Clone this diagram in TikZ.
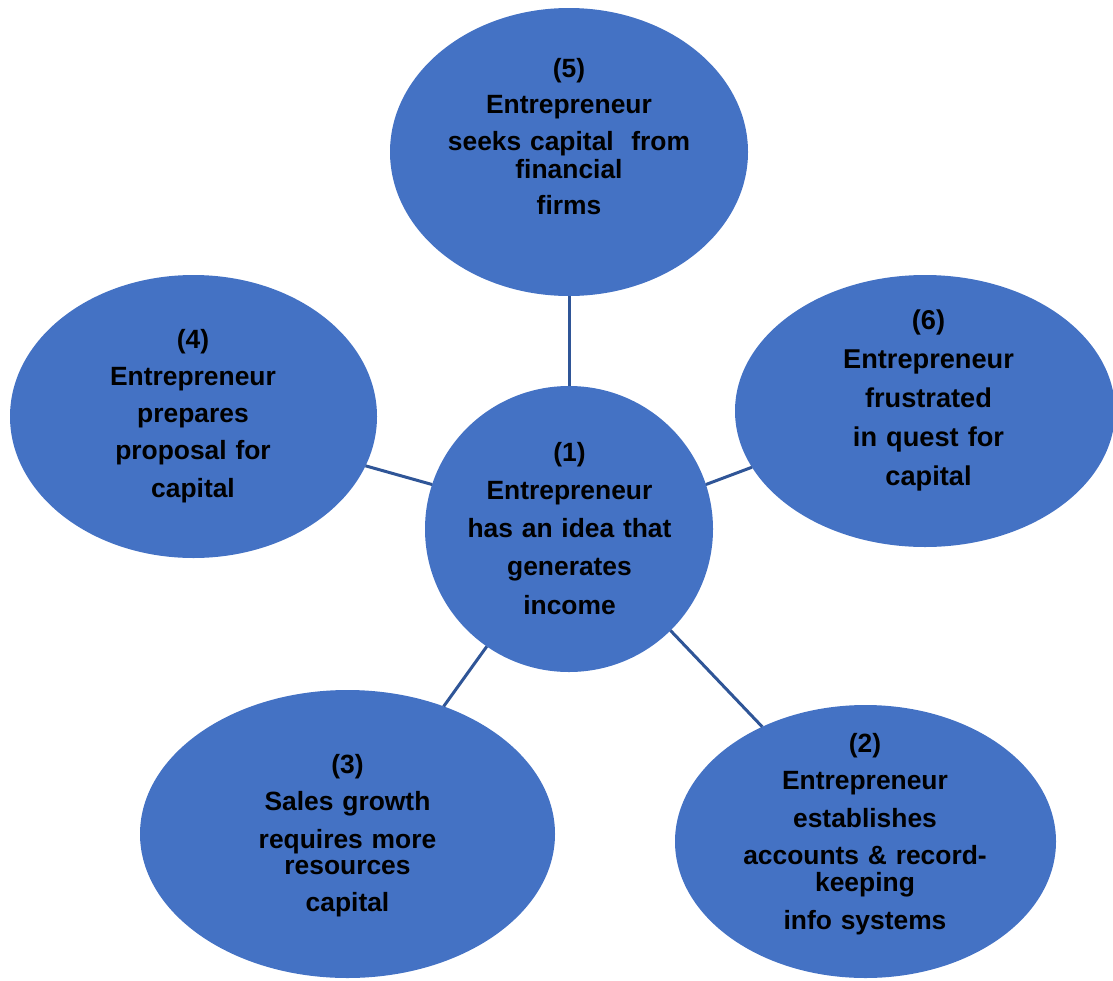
\documentclass[tikz,border=0pt]{standalone}
\usepackage{fontspec}
\setmainfont{Liberation Sans}
\usetikzlibrary{shapes.geometric}
\definecolor{bubblefill}{HTML}{4472C4}
\definecolor{linkblue}{HTML}{2F5597}
\tikzset{
  bubble/.style={ellipse, fill=bubblefill, inner sep=0pt, outer sep=0pt},
  txt/.style={anchor=base, inner sep=0pt, text width=300pt, align=center,
              font=\bfseries\fontsize{26.4}{37.5}\selectfont},
  link/.style={draw=linkblue, line width=3pt}
}
\begin{document}
\begin{tikzpicture}[x=1pt, y=-1pt]
\useasboundingbox (0,0) rectangle (1113,980);

% outer bubbles and centre
\node[bubble, minimum width=358pt, minimum height=288pt] (e5) at (569,152) {};
\node[bubble, minimum width=367pt, minimum height=283pt] (e4) at (193.5,416.5) {};
\node[bubble, minimum width=380pt, minimum height=272pt] (e6) at (925,411) {};
\node[bubble, minimum width=415pt, minimum height=288pt] (e3) at (347.5,834) {};
\node[bubble, minimum width=381pt, minimum height=273pt] (e2) at (865.5,841.5) {};
\node[bubble, minimum width=288pt, minimum height=286pt] (c) at (569,529) {};

% spokes
\draw[link] (c.north) -- (e5.south);
\draw[link] (c.162.7) -- (e4.-16.2);
\draw[link] (c.18.3) -- (e6.198.8);
\draw[link] (c.-125.8) -- (e3.53.9);
\draw[link] (c.-45.8) -- (e2.132.8);

% labels
\node[txt, font=\bfseries\fontsize{26.4}{36.5}\selectfont] (t5) at (569,77)
  {(5)\\Entrepreneur\\seeks capital\ \ from\\[-8.5pt]financial\\firms};
\node[txt, font=\bfseries\fontsize{26.4}{37.3}\selectfont] (t4) at (193,348)
  {(4)\\Entrepreneur\\prepares\\proposal for\\capital};
\node[txt, font=\bfseries\fontsize{27.2}{39}\selectfont] (t6) at (928.5,329)
  {(6)\\Entrepreneur\\frustrated\\in quest for\\capital};
\node[txt, font=\bfseries\fontsize{26.4}{38.25}\selectfont] (t1) at (569.5,461)
  {(1)\\Entrepreneur\\has an idea that\\generates\\income};
\node[txt] (t3) at (347.5,773)
  {(3)\\Sales growth\\requires more\\[-11.5pt]resources\\capital};
\node[txt] (t2) at (865,752)
  {(2)\\Entrepreneur\\establishes\\accounts \& record-\\[-10.5pt]keeping\\info systems};
\end{tikzpicture}
\end{document}
